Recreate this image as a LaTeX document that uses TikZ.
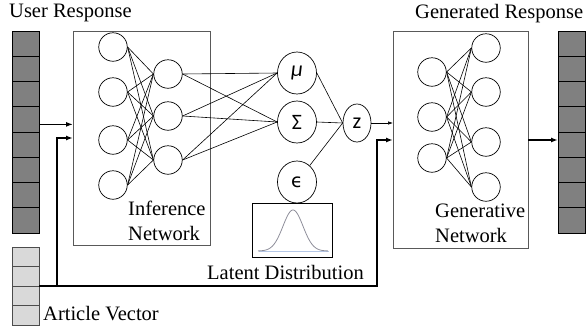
\documentclass[tikz,border=0pt]{standalone}
\usepackage{fontspec}
\setmainfont{Liberation Serif}
\newfontfamily\latentfont{Carlito}
\newfontfamily\epsfont{DejaVu Sans}
\usetikzlibrary{arrows.meta,shapes.geometric,calc}
\definecolor{cellDark}{HTML}{808080}
\definecolor{cellLight}{HTML}{D9D9D9}
\definecolor{boxEdge}{HTML}{595959}
\definecolor{curveGray}{HTML}{8E8E9A}
\definecolor{curveBase}{HTML}{B4C7E7}
\begin{document}
\begin{tikzpicture}[x=1pt,y=-1pt,
  font=\rmfamily\fontsize{20.5}{25}\selectfont,
  darkcell/.style={draw=black,line width=0.8pt,fill=cellDark,minimum width=27pt,minimum height=25.25pt,inner sep=0pt,outer sep=0pt},
  lightcell/.style={draw=black!70,line width=0.8pt,fill=cellLight,minimum width=27pt,minimum height=19.5pt,inner sep=0pt,outer sep=0pt},
  netbox/.style={draw=boxEdge,line width=0.9pt,inner sep=0pt,outer sep=0pt},
  neuron/.style={circle,draw,line width=0.7pt,minimum size=28.5pt,inner sep=0pt},
  latent/.style={ellipse,draw,line width=0.7pt,minimum width=39pt,minimum height=42pt,inner sep=0pt,font=\latentfont\fontsize{22}{22}\selectfont},
  wire/.style={line width=0.6pt},
  feed/.style={line width=1.5pt,-{Latex[length=7pt,width=5pt]}},
  thinfeed/.style={line width=0.6pt,-{Latex[length=5pt,width=3.5pt]}},
  textlabel/.style={anchor=base west,inner sep=0pt,align=left}
]
\useasboundingbox (0,0) rectangle (587,330);

% input / output token bars
\foreach \i in {1,...,8} {
  \node[darkcell] (u\i) at (25.5,{31+25.25*(\i-0.5)}) {};
  \node[darkcell] (g\i) at (571.5,{31+25.25*(\i-0.5)}) {};
}
\foreach \i in {1,...,4}
  \node[lightcell] (a\i) at (25.5,{247+19.5*(\i-0.5)}) {};

% network boxes
\node[netbox,minimum width=137pt,minimum height=214pt] (inf) at (141.5,138) {};
\node[netbox,minimum width=135pt,minimum height=217pt] (gen) at (460.5,139.5) {};

% inference network neurons
\foreach \y [count=\i] in {47,92,140,185}
  \node[neuron] (e\i) at (113,\y) {};
\foreach \y [count=\i] in {74,116,160}
  \node[neuron] (h\i) at (168,\y) {};

% latent variables
\node[latent] (mu) at (297,73) {\itshape μ};
\node[latent] (sig) at (297,122) {Σ};
\node[latent,font=\epsfont\fontsize{19}{19}\selectfont] (eps) at (297,182) {ϵ};
\node[latent,minimum width=28pt,minimum height=38pt] (z) at (357,123) {z};

% generative network neurons
\foreach \y [count=\i] in {72,117,158}
  \node[neuron] (d\i) at (432,\y) {};
\foreach \y [count=\i] in {48,92,142,187}
  \node[neuron] (o\i) at (486,\y) {};

% connections
\foreach \i in {1,...,4}
  \foreach \j in {1,...,3}
    \draw[wire] (e\i.east) -- (h\j.west);
\foreach \j in {1,...,3} {
  \draw[wire] (h\j.east) -- (mu.west);
  \draw[wire] (h\j.east) -- (sig.west);
}
\draw[wire] (mu.east) -- (z.west);
\draw[wire] (sig.east) -- (z.west);
\draw[wire] (eps) -- (z.west);
\foreach \i in {1,...,3}
  \foreach \j in {1,...,4}
    \draw[wire] (d\i.east) -- (o\j.west);

% prior distribution
\node[draw,line width=0.8pt,minimum width=80pt,minimum height=54pt,inner sep=0pt] (gauss) at (292,230) {};
\draw[curveBase,line width=0.8pt] (259,251) -- (329,251);
\draw[curveGray,line width=0.8pt] plot[domain=-3.5:3.5,samples=80,smooth] ({293+10*\x},{251-41*exp(-(\x)^2/2)});

% data flow
\coordinate (ajoin) at (57,286);
\coordinate (aturn) at (377,286);
\draw[feed] ([yshift=-5pt]u4.east) -- ([yshift=-5pt]u4.east -| inf.west);
\draw[feed] (a2.south east) -- (ajoin) |- (inf.west |- 0,138);
\draw[feed] (ajoin) -- (aturn) |- (gen.west |- 0,140);
\draw[thinfeed] (z.east) -- (z.east -| gen.west);
\draw[feed] (gen.east |- 0,140) -- (g5.west |- 0,140);

% labels
\node[textlabel] (tin) at (9,17.5) {User Response};
\node[textlabel] (tout) at (415,18.3) {Generated Response};
\node[textlabel] (tinf) at (128,240) {Inference\\Network};
\node[textlabel] (tgen) at (435,242) {Generative\\Network};
\node[textlabel] (tlat) at (207,279) {Latent Distribution};
\node[textlabel] (tart) at (43,320) {Article Vector};
\end{tikzpicture}
\end{document}
